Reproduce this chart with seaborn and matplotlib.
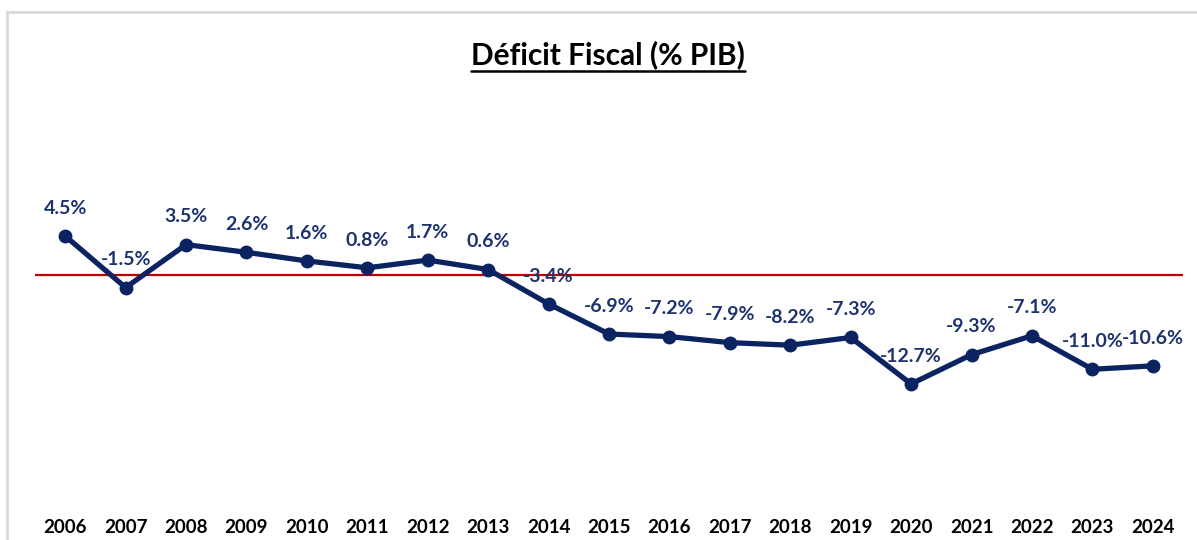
import numpy as np
import pandas as pd
import seaborn as sns
import matplotlib.pyplot as plt
from matplotlib.patches import Rectangle
from matplotlib.lines import Line2D

years = [str(y) for y in range(2006, 2025)]
deficit = [4.5, -1.5, 3.5, 2.6, 1.6, 0.8, 1.7, 0.6, -3.4, -6.9, -7.2,
           -7.9, -8.2, -7.3, -12.7, -9.3, -7.1, -11.0, -10.6]
labels = [f"{v:.1f}%" for v in deficit]

navy = "#0b2360"
label_color = "#1c336e"

sns.set_theme(style="white")
plt.rcParams['font.family'] = ['Lato', 'DejaVu Sans']

df = pd.DataFrame({"year": years, "deficit": deficit})

fig = plt.figure(figsize=(11.97, 5.4), dpi=100)
W, H = 1197, 540
ax = fig.add_axes([35 / W, 1 - 500 / H, (1183 - 35) / W, 350 / H])

# outer frame
fig.patches.append(Rectangle((7 / W, -0.1), 1.2, 1 - 12 / H + 0.1,
                             transform=fig.transFigure, fill=False,
                             edgecolor="#d9d9d9", linewidth=2))

ax.axhline(0, color="#c00000", linewidth=1.6, zorder=1)
sns.lineplot(data=df, x="year", y="deficit", ax=ax, color=navy,
             linewidth=3.8, marker="o", markersize=10, markeredgewidth=0,
             sort=False, zorder=3)

for i, (v, lab) in enumerate(zip(deficit, labels)):
    ax.annotate(lab, (i, v), xytext=(0, 20), textcoords="offset points",
                ha="center", va="center", fontsize=14, fontweight="bold",
                color=label_color, zorder=4)

ax.set_xlim(-0.5, len(years) - 0.5)
ax.set_ylim(-26.2, 14.5)
ax.set_yticks([])
ax.set_xlabel("")
ax.set_ylabel("")
ax.tick_params(axis="x", length=0, pad=14)
for t in ax.get_xticklabels():
    t.set_fontweight("bold")
    t.set_fontsize(13.5)
    t.set_color("black")
for s in ax.spines.values():
    s.set_visible(False)
ax.set_facecolor("none")

title = fig.text(608 / W, 1 - 55 / H, "Déficit Fiscal (% PIB)", ha="center",
                 va="center", fontsize=21.5, fontweight="bold", color="black")
fig.canvas.draw()
bb = title.get_window_extent().transformed(fig.transFigure.inverted())
fig.add_artist(Line2D([bb.x0, bb.x1], [bb.y0 - 0.002, bb.y0 - 0.002],
                      transform=fig.transFigure, color="black", linewidth=1.8))

fig.savefig("out.png", dpi=100)
